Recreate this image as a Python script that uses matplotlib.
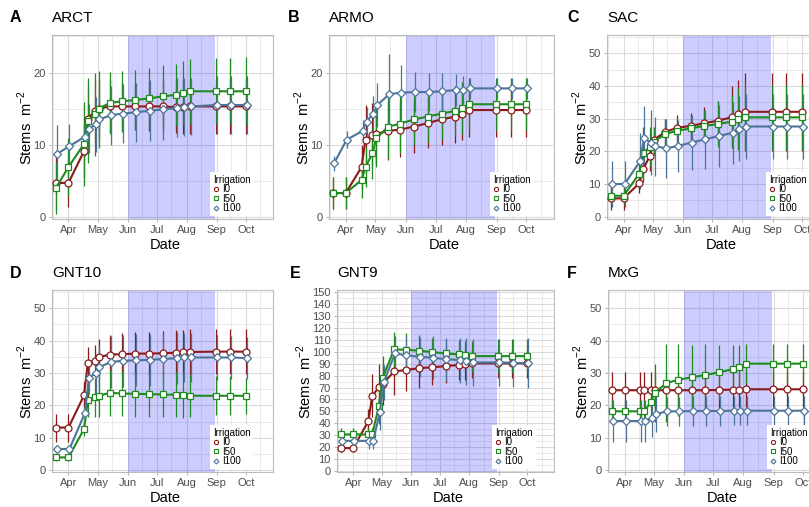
import matplotlib
matplotlib.use("Agg")
import matplotlib.pyplot as plt
import matplotlib.dates as mdates
import pandas as pd
from matplotlib.lines import Line2D
from matplotlib.ticker import MultipleLocator

plt.rcParams['font.family'] = ['Liberation Sans', 'DejaVu Sans']
plt.rcParams['mathtext.fontset'] = 'custom'
plt.rcParams['mathtext.rm'] = 'Liberation Sans'

# sampling dates (same for all species)
sample_dates = ['2019-03-19', '2019-04-01', '2019-04-17', '2019-04-21', '2019-04-28',
                '2019-05-02', '2019-05-14', '2019-05-26', '2019-06-09', '2019-06-23',
                '2019-07-07', '2019-07-21', '2019-07-28', '2019-08-04', '2019-08-31',
                '2019-09-15', '2019-10-01']
treatments = ['I0', 'I50', 'I100']

# ARCT
arct_i0 = [4.7, 4.7, 9.1, 13.6, 14.6, 15.0, 15.3, 15.3, 15.3, 15.3, 15.3, 15.2, 15.2, 15.3, 15.3, 15.3, 15.3]
arct_i50 = [4.0, 6.9, 10.1, 13.3, 14.2, 15.0, 15.8, 16.0, 16.2, 16.4, 16.7, 16.9, 17.2, 17.4, 17.4, 17.4, 17.4]
arct_i100 = [8.7, 9.8, 11.1, 12.2, 12.8, 13.5, 14.1, 14.3, 14.5, 14.7, 14.9, 15.1, 15.2, 15.3, 15.5, 15.5, 15.5]
arct_i0_err = [3.8, 3.4, 3.7, 4.5, 4.3, 4.0, 3.6, 3.4, 3.3, 3.4, 3.5, 3.6, 3.7, 3.8, 3.8, 3.8, 3.8]
arct_i50_err = [3.6, 4.0, 5.8, 5.9, 5.8, 5.2, 4.3, 4.2, 4.1, 4.2, 4.3, 4.3, 4.4, 4.5, 4.6, 4.6, 4.7]
arct_i100_err = [4.0, 3.0, 2.6, 3.4, 3.8, 4.0, 4.1, 4.1, 4.1, 4.2, 4.2, 4.1, 4.0, 4.0, 4.0, 4.0, 4.0]

# ARMO
armo_i0 = [3.3, 3.3, 6.9, 10.7, 11.3, 11.5, 11.9, 12.1, 12.5, 13.0, 13.5, 13.9, 14.3, 14.8, 14.8, 14.8, 14.8]
armo_i50 = [3.3, 3.3, 5.1, 6.9, 8.8, 10.9, 12.5, 12.9, 13.5, 13.9, 14.3, 14.7, 15.1, 15.6, 15.6, 15.6, 15.6]
armo_i100 = [7.4, 10.7, 11.9, 13.2, 14.3, 15.5, 17.0, 17.2, 17.3, 17.3, 17.4, 17.6, 17.6, 17.8, 17.8, 17.8, 17.8]
armo_i0_err = [2.2, 2.2, 3.0, 4.8, 4.5, 4.2, 4.0, 3.8, 3.6, 3.5, 3.5, 3.6, 3.6, 3.7, 3.7, 3.7, 3.7]
armo_i50_err = [2.2, 2.2, 2.5, 2.8, 3.5, 4.0, 4.3, 4.0, 3.6, 3.5, 3.5, 3.5, 3.6, 3.6, 3.6, 3.6, 3.6]
armo_i100_err = [1.1, 1.2, 1.5, 2.0, 2.5, 3.0, 5.5, 3.8, 2.8, 2.7, 2.6, 2.2, 1.9, 1.5, 1.5, 1.5, 1.5]

# SAC
sac_i0 = [5.6, 5.6, 10.2, 14.5, 18.6, 23.5, 26.0, 27.2, 27.8, 28.6, 29.4, 30.4, 31.3, 32.1, 32.1, 32.1, 32.1]
sac_i50 = [6.4, 6.4, 13.1, 19.4, 21.4, 23.0, 25.3, 26.3, 27.0, 27.8, 28.3, 29.1, 29.8, 30.4, 30.4, 30.4, 30.4]
sac_i100 = [10.0, 10.0, 17.0, 24.0, 22.7, 21.6, 20.9, 21.7, 22.7, 23.7, 24.7, 25.7, 26.9, 27.6, 27.6, 27.6, 27.6]
sac_i0_err = [3.5, 3.5, 3.0, 4.0, 4.5, 4.0, 4.0, 4.0, 4.0, 5.0, 6.0, 9.5, 10.5, 12.0, 12.0, 12.0, 12.0]
sac_i50_err = [2.5, 2.5, 3.0, 8.0, 6.0, 4.0, 4.5, 4.0, 4.0, 5.0, 7.0, 8.0, 9.5, 10.0, 10.0, 10.0, 10.0]
sac_i100_err = [7.0, 7.0, 8.5, 10.0, 10.0, 9.0, 9.0, 8.0, 8.5, 9.0, 9.5, 9.5, 10.0, 10.0, 10.0, 10.0, 10.0]

# GNT10
gnt10_i0 = [13.2, 13.2, 23.1, 33.1, 33.8, 34.9, 35.7, 35.8, 36.0, 36.0, 36.1, 36.3, 36.4, 36.5, 36.6, 36.6, 36.6]
gnt10_i50 = [4.0, 4.0, 12.7, 21.6, 22.5, 23.0, 23.9, 23.7, 23.6, 23.5, 23.4, 23.3, 23.2, 23.0, 23.0, 23.0, 23.0]
gnt10_i100 = [6.6, 6.6, 17.7, 28.4, 30.0, 31.9, 33.4, 33.8, 33.9, 34.1, 34.3, 34.6, 34.8, 34.8, 34.8, 34.8, 34.6]
gnt10_i0_err = [4.3, 4.3, 4.0, 5.0, 5.0, 5.5, 6.0, 6.5, 6.5, 6.5, 6.8, 7.0, 7.0, 7.0, 7.0, 7.0, 7.0]
gnt10_i50_err = [1.0, 1.0, 2.0, 5.0, 6.0, 6.5, 7.0, 7.0, 7.0, 7.0, 7.0, 7.0, 7.0, 6.5, 6.0, 6.0, 5.5]
gnt10_i100_err = [1.0, 1.0, 2.5, 5.0, 6.0, 6.5, 8.0, 8.0, 8.0, 8.0, 8.0, 8.0, 7.5, 7.5, 7.0, 6.5, 6.5]

# GNT9
gnt9_i0 = [19.1, 19.1, 41.8, 63.1, 70.1, 73.0, 83.5, 84.7, 86.3, 87.0, 88.0, 89.0, 89.5, 90.3, 90.3, 90.3, 90.3]
gnt9_i50 = [30.6, 30.6, 30.6, 30.6, 54.4, 78.2, 102.0, 101.8, 101.0, 99.8, 98.7, 97.8, 97.3, 96.4, 96.4, 96.4, 96.4]
gnt9_i100 = [25.2, 25.2, 25.2, 25.2, 49.1, 74.3, 98.7, 97.0, 95.9, 95.0, 93.9, 93.0, 92.0, 91.1, 91.1, 90.8, 90.3]
gnt9_i0_err = [3.0, 3.0, 10.0, 18.0, 20.0, 18.0, 20.0, 18.0, 17.0, 15.0, 14.0, 13.0, 13.0, 12.0, 12.0, 12.0, 12.0]
gnt9_i50_err = [5.0, 5.0, 5.0, 5.0, 15.0, 18.0, 15.0, 14.0, 13.0, 12.0, 12.0, 12.0, 12.0, 13.0, 14.0, 14.0, 14.0]
gnt9_i100_err = [3.0, 3.0, 7.0, 7.0, 15.0, 15.0, 15.0, 16.0, 17.0, 18.0, 18.0, 19.0, 20.0, 20.0, 20.0, 20.0, 21.0]

# MxG
mxg_i0 = [24.7, 24.7, 24.7, 24.7, 24.7, 24.7, 24.7, 24.7, 24.7, 24.7, 24.8, 24.9, 24.9, 25.0, 25.0, 25.0, 25.0]
mxg_i50 = [18.2, 18.2, 18.2, 18.2, 21.0, 23.9, 26.9, 27.9, 28.7, 29.4, 30.2, 31.2, 31.9, 32.9, 32.9, 32.9, 32.9]
mxg_i100 = [15.2, 15.2, 15.2, 15.2, 16.2, 17.4, 18.2, 18.2, 18.3, 18.3, 18.3, 18.4, 18.4, 18.4, 18.4, 18.4, 18.4]
mxg_i0_err = [5.5, 5.5, 5.5, 5.5, 5.5, 5.5, 5.5, 5.5, 5.5, 5.5, 5.5, 5.5, 5.5, 5.5, 5.5, 5.5, 5.5]
mxg_i50_err = [3.5, 3.5, 3.5, 3.5, 5.0, 9.0, 12.0, 11.0, 10.0, 9.5, 8.5, 7.5, 6.8, 6.0, 6.0, 6.0, 6.0]
mxg_i100_err = [6.5, 6.5, 6.5, 6.5, 6.0, 5.5, 4.5, 4.5, 4.5, 4.5, 4.5, 4.5, 4.5, 4.5, 4.5, 4.5, 4.5]

# styling
colors = {'I0': '#8B1A1A', 'I50': '#1E8B1E', 'I100': '#4C7499'}
markers = {'I0': 'o', 'I50': 's', 'I100': 'D'}
msizes = {'I0': 5.0, 'I50': 5.0, 'I100': 3.9}
leg_msizes = {'I0': 3.0, 'I50': 3.0, 'I100': 2.5}
dodge = {'I0': 0.0, 'I50': 0.0, 'I100': 1.0}

W, H = 809, 507
fig = plt.figure(figsize=(W / 100, H / 100), dpi=100)

# (tag, name, series, errors, ylim, ystep, axes px [left, top, width, height], column left px, ylabel offset px)
panels = [
    ('A', 'ARCT', (arct_i0, arct_i50, arct_i100), (arct_i0_err, arct_i50_err, arct_i100_err),
     (-0.3, 25.2), 10, (52, 35, 221, 184), 0, 27),
    ('B', 'ARMO', (armo_i0, armo_i50, armo_i100), (armo_i0_err, armo_i50_err, armo_i100_err),
     (-0.3, 25.2), 10, (329, 35, 225, 184), 278, 27),
    ('C', 'SAC', (sac_i0, sac_i50, sac_i100), (sac_i0_err, sac_i50_err, sac_i100_err),
     (-0.7, 55.6), 10, (607, 35, 222, 184), 557, 27),
    ('D', 'GNT10', (gnt10_i0, gnt10_i50, gnt10_i100), (gnt10_i0_err, gnt10_i50_err, gnt10_i100_err),
     (-0.5, 55.6), 10, (52, 290, 221, 182), 0, 27),
    ('E', 'GNT9', (gnt9_i0, gnt9_i50, gnt9_i100), (gnt9_i0_err, gnt9_i50_err, gnt9_i100_err),
     (-1.0, 152.0), 10, (337, 290, 217, 182), 280, 33),
    ('F', 'MxG', (mxg_i0, mxg_i50, mxg_i100), (mxg_i0_err, mxg_i50_err, mxg_i100_err),
     (-0.5, 55.6), 10, (608, 290, 222, 182), 557, 27),
]

dates = mdates.date2num(pd.to_datetime(sample_dates).to_pydatetime())
x_lo = mdates.date2num(pd.Timestamp('2019-03-15'))
x_hi = mdates.date2num(pd.Timestamp('2019-10-29'))
shade_lo = mdates.date2num(pd.Timestamp('2019-06-01'))
shade_hi = mdates.date2num(pd.Timestamp('2019-08-30'))


def fx(px):
    return px / W


def fy(py):
    return 1 - py / H


for tag, name, series, errs, ylim, ystep, (l, t, w, h), col_left, ylab_off in panels:
    ax = fig.add_axes([fx(l), fy(t + h), w / W, h / H])
    ax.set_axisbelow(True)
    ax.set_xlim(x_lo, x_hi)
    ax.set_ylim(*ylim)

    ax.xaxis.set_major_locator(mdates.MonthLocator(bymonth=range(4, 11)))
    ax.xaxis.set_minor_locator(mdates.MonthLocator(bymonthday=16))
    ax.xaxis.set_major_formatter(mdates.DateFormatter('%b'))
    ax.yaxis.set_major_locator(MultipleLocator(ystep))
    ax.yaxis.set_minor_locator(MultipleLocator(ystep / 2))

    ax.grid(which='major', color='#DBDBDB', linewidth=0.8)
    ax.grid(which='minor', color='#E6E6E6', linewidth=0.6)
    for sp in ax.spines.values():
        sp.set_color('#BDBDBD')
        sp.set_linewidth(0.8)
    ax.tick_params(which='major', length=2.5, width=0.7, color='#B3B3B3',
                   labelsize=8, labelcolor='#4D4D4D', pad=2)
    ax.tick_params(which='minor', length=0)

    ax.axvspan(shade_lo, shade_hi, color='blue', alpha=0.2, lw=0, zorder=1)

    for trt, vals, err in zip(treatments, series, errs):
        x = dates + dodge[trt]
        ax.errorbar(x, vals, yerr=err, fmt='none', ecolor=colors[trt],
                    elinewidth=0.9, capsize=0, zorder=2)
        ax.plot(x, vals, color=colors[trt], lw=1.5, zorder=3,
                marker=markers[trt], ms=msizes[trt], mfc='white',
                mec=colors[trt], mew=0.9)

    handles = [Line2D([], [], ls='none', marker=markers[trt], ms=leg_msizes[trt],
                      mfc='white', mec=colors[trt], mew=0.8) for trt in treatments]
    leg = ax.legend(handles, treatments, title='Irrigation', loc='lower left',
                    bbox_to_anchor=(0.715, 0.015), fontsize=7, title_fontsize=7,
                    frameon=True, fancybox=False, framealpha=1, edgecolor='none',
                    facecolor='white', labelspacing=-0.05, handlelength=0.6,
                    handletextpad=0.35, borderpad=0.3, borderaxespad=0)
    leg._legend_box.align = 'left'
    leg.set_zorder(5)

    # titles, tag letters and axis titles
    fig.text(fx(col_left + 10), fy(t - 17), tag, fontsize=11.5, fontweight='bold',
             ha='left', va='center')
    fig.text(fx(l), fy(t - 17), name, fontsize=11, ha='left', va='center')
    fig.text(fx(l - ylab_off), fy(t + h / 2), 'Stems  m$^{-2}$', fontsize=10.5,
             rotation=90, ha='center', va='center')
    fig.text(fx(l + w / 2 + 3), fy(t + h + 26), 'Date', fontsize=10.5,
             ha='center', va='center')

fig.savefig('out.png', dpi=100)
